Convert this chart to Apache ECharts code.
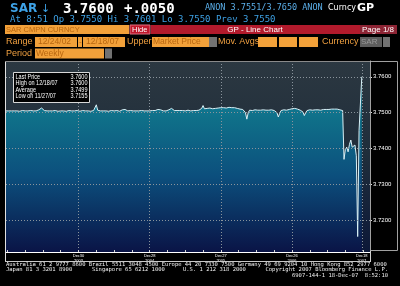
<!DOCTYPE html>
<html><head><meta charset="utf-8">
<script src="https://cdn.jsdelivr.net/npm/echarts@6/dist/echarts.min.js"></script>
<style>html,body{margin:0;padding:0;background:#000;}#c{width:400px;height:286px;}</style>
</head><body><div id="c"></div>
<script>
// ---- data ----
const startDate = [2002, 11, 24]; // 12/24/02, weekly
const values = [
3.7505,3.7504,3.7505,3.7506,3.7505,3.7504,3.7505,3.7506,3.7505,3.7505,
3.7504,3.7505,3.7506,3.7505,3.7505,3.7504,3.7505,3.7505,3.7506,3.7505,
3.7505,3.7504,3.7505,3.7506,3.7508,3.7510,3.7513,3.7509,3.7506,3.7505,
3.7505,3.7506,3.7505,3.7504,3.7505,3.7505,3.7506,3.7505,3.7504,3.7505,
3.7505,3.7506,3.7505,3.7505,3.7504,3.7505,3.7506,3.7505,3.7505,3.7504,
3.7505,3.7505,3.7506,3.7505,3.7504,3.7505,3.7506,3.7505,3.7505,3.7506,
3.7505,3.7505,3.7504,3.7505,3.7506,3.7508,3.7522,3.7507,3.7505,3.7505,
3.7504,3.7505,3.7506,3.7505,3.7505,3.7504,3.7505,3.7506,3.7505,3.7505,
3.7505,3.7506,3.7505,3.7504,3.7506,3.7508,3.7507,3.7509,3.7506,3.7505,
3.7505,3.7506,3.7505,3.7505,3.7504,3.7505,3.7506,3.7505,3.7505,3.7506,
3.7505,3.7505,3.7504,3.7505,3.7506,3.7505,3.7505,3.7506,3.7505,3.7506,
3.7507,3.7509,3.7511,3.7508,3.7506,3.7505,3.7506,3.7505,3.7506,3.7508,
3.7510,3.7512,3.7508,3.7506,3.7505,3.7506,3.7505,3.7506,3.7505,3.7506,
3.7506,3.7505,3.7506,3.7507,3.7506,3.7505,3.7506,3.7506,3.7505,3.7506,
3.7506,3.7507,3.7508,3.7512,3.7520,3.7511,3.7509,3.7512,3.7510,3.7513,
3.7510,3.7511,3.7509,3.7512,3.7511,3.7513,3.7514,3.7514,3.7515,3.7514,
3.7514,3.7513,3.7514,3.7515,3.7514,3.7514,3.7513,3.7514,3.7513,3.7512,
3.7511,3.7510,3.7510,3.7509,3.7508,3.7500,3.7482,3.7500,3.7507,3.7507,
3.7506,3.7507,3.7508,3.7507,3.7507,3.7506,3.7507,3.7507,3.7508,3.7507,
3.7507,3.7506,3.7507,3.7507,3.7508,3.7507,3.7506,3.7505,3.7500,3.7488,
3.7498,3.7506,3.7507,3.7508,3.7507,3.7507,3.7508,3.7509,3.7510,3.7511,
3.7511,3.7512,3.7511,3.7510,3.7508,3.7507,3.7506,3.7502,3.7492,3.7500,
3.7506,3.7507,3.7508,3.7508,3.7507,3.7508,3.7508,3.7509,3.7508,3.7508,
3.7507,3.7508,3.7509,3.7508,3.7509,3.7510,3.7509,3.7510,3.7510,3.7511,
3.7510,3.7511,3.7510,3.7509,3.7508,3.7507,3.7506,3.7370,3.7398,3.7404,
3.7391,3.7412,3.7424,3.7404,3.7408,3.7410,3.7380,3.7155,3.7451,3.7453,
3.7600
];
const extraWeeks = 6;
const labelDates = ['2003-12-30','2004-12-28','2005-12-27','2006-12-26','2007-12-18'];
const tickLabels = ['Dec30\n2003','Dec28\n2004','Dec27\n2005','Dec26\n2006','Dec18\n2007'];
const legendNames = ['Last Price','High on 12/18/07','Average','Low on 11/27/07'];
const legendValues = ['3.7600','3.7600','3.7499','3.7155'];
const yMin = 3.7112, yMax = 3.7644;

// ---- categories (weekly dates) ----
const categories = [];
const d0 = Date.UTC(startDate[0], startDate[1], startDate[2]);
for (let i = 0; i < values.length + extraWeeks; i++) {
  categories.push(new Date(d0 + i * 7 * 864e5).toISOString().slice(0, 10));
}
const labelIdx = labelDates.map(s => categories.indexOf(s));

// ---- graphic helpers ----
const MONO = '"DejaVu Sans Mono", monospace';
const SANS = '"Liberation Sans", Arial, sans-serif';
function T(text, x, y, font, fill, align, extra) {
  return Object.assign({type:'text', x:x, y:y, z:10, silent:true,
    style:{text:text, fill:fill, font:font, textAlign:align||'left', align:align||'left',
      textVerticalAlign:'middle', verticalAlign:'middle'}}, extra||{});
}
function R(x, y, w, h, fill, stroke) {
  return {type:'rect', z:10, silent:true, shape:{x:x, y:y, width:w, height:h},
    style:{fill:fill||'none', stroke:stroke||'none', lineWidth:1}};
}
function L(x1, y1, x2, y2, stroke) {
  return {type:'line', z:10, silent:true, shape:{x1:x1,y1:y1,x2:x2,y2:y2}, style:{stroke:stroke, lineWidth:1}};
}
const BLUE = '#3ea2e6', OR = '#f2a13a', ORT = '#b8660f', ORL = '#f0a040';

const g = [];
// header line 1
g.push(T('SAR', 10, 9, 'bold 12px "DejaVu Sans"', BLUE));
g.push(T('\u2193', 41, 9, '11px "DejaVu Sans"', BLUE));
g.push(T('3.7600', 63, 9, 'bold 14px ' + MONO, '#ffffff'));
g.push(T('+.0050', 124, 9, 'bold 14px ' + MONO, '#ffffff'));
g.push(T('ANON 3.7551/3.7650 ANON', 205, 8, '8.5px ' + MONO, '#5aaee8'));
g.push(T('Curncy', 328, 8, '8px "DejaVu Sans"', '#ffffff'));
g.push(T('GP', 357, 8, 'bold 11px "DejaVu Sans"', '#ffffff'));
// header line 2
g.push(T('At 8:51 Op 3.7550 Hi 3.7601 Lo 3.7550 Prev 3.7550', 10, 19.5, '9px ' + MONO, BLUE));
// line 3
g.push(R(5, 25, 124, 9, OR));
g.push(T('SAR CMPN CURNCY', 6, 29.8, '7.5px ' + SANS, ORT));
g.push(R(130, 25, 20, 9, '#c0182c', '#e07080'));
g.push(T('Hide', 132, 29.8, '7.5px ' + SANS, '#ffffff'));
g.push(R(151, 25, 209, 9, '#b21a2c'));
g.push(T('GP - Line Chart', 255, 29.8, '8px ' + SANS, '#ffffff', 'center'));
g.push(R(360, 25, 37, 9, '#8c2434'));
g.push(T('Page 1/8', 362, 29.8, '8px ' + SANS, '#ffffff'));
// line 4
g.push(T('Range', 6, 42, '9px ' + SANS, ORL));
g.push(R(35, 37, 42, 10, OR));
g.push(T('12/24/02', 38, 42, '8.5px ' + SANS, ORT));
g.push(R(78, 37, 4, 10, OR));
g.push(T('-', 79, 42, '8px ' + SANS, ORT));
g.push(R(83, 37, 42, 10, OR));
g.push(T('12/18/07', 86, 42, '8.5px ' + SANS, ORT));
g.push(T('Upper', 127, 42, '9px ' + SANS, ORL));
g.push(R(152, 37, 57, 10, OR));
g.push(T('Market Price', 153, 42, '8.5px ' + SANS, ORT));
g.push(R(209, 37, 8, 10, '#727272'));
g.push(T('Mov. Avgs', 218, 42, '9px ' + SANS, ORL));
g.push(R(258, 37, 19, 10, OR));
g.push(R(279, 37, 18, 10, OR));
g.push(R(299, 37, 19, 10, OR));
g.push(T('Currency', 322, 42, '9px ' + SANS, ORL));
g.push(R(360, 37, 22, 10, '#5e5e5e'));
g.push(T('SAR', 361, 42, '8px ' + SANS, '#9a9a9a'));
g.push(R(383, 37, 7, 10, '#727272'));
// line 5
g.push(T('Period', 6, 53.5, '9px ' + SANS, ORL));
g.push(R(35, 48.5, 69, 10, OR));
g.push(T('Weekly', 36, 53.5, '8.5px ' + SANS, ORT));
g.push(R(105, 48.5, 7, 10, '#727272'));
// frame
g.push(L(5.5, 61, 5.5, 262, '#e0e0e0'));
g.push(L(5, 61.5, 370, 61.5, '#8a8a8a'));
g.push(L(370.5, 61, 370.5, 262, '#d0d0d0'));
g.push(L(5, 261.5, 370, 261.5, '#c8c8c8'));
g.push(R(370.5, 61.5, 27, 189, 'none', '#a0a0a0'));
// legend box
g.push(R(13.5, 72.5, 76, 30, '#000000', '#d8d8d8'));
legendNames.forEach((n, k) => {
  const y = 77.3 + k * 6.4;
  g.push(T(n, 15.5, y, '6.5px ' + SANS, '#ffffff', 'left', {scaleX:0.85}));
  g.push(T(legendValues[k], 87.5, y, '6.5px ' + SANS, '#ffffff', 'right', {scaleX:0.85}));
});
// footer
const FF = '5.5px ' + MONO;
g.push(T('Australia 61 2 9777 8600 Brazil 5511 3048 4500 Europe 44 20 7330 7500 Germany 49 69 9204 10 Hong Kong 852 2977 6000', 6, 264.4, FF, '#f0f0f0'));
g.push(T('Japan 81 3 3201 8900', 6, 269.6, FF, '#f0f0f0'));
g.push(T('Singapore 65 6212 1000', 92, 269.6, FF, '#f0f0f0'));
g.push(T('U.S. 1 212 318 2000', 183, 269.6, FF, '#f0f0f0'));
g.push(T('Copyright 2007 Bloomberg Finance L.P.', 388, 269.6, FF, '#f0f0f0', 'right'));
g.push(T('6907-144-1 18-Dec-07  8:52:10', 388, 275.6, FF, '#f0f0f0', 'right'));

const chart = echarts.init(document.getElementById('c'), null, {renderer:'canvas'});
const bgGrad = new echarts.graphic.LinearGradient(0, 0, 0, 1, [
  {offset:0, color:'#2c3841'}, {offset:0.5, color:'#1f2d3b'}, {offset:1, color:'#0c1838'}]);
const areaGrad = new echarts.graphic.LinearGradient(0, 100, 0, 252, [
  {offset:0, color:'#127a94'}, {offset:0.12, color:'#0f7089'}, {offset:0.5, color:'#0c4f7d'}, {offset:1, color:'#0a1446'}], true);

chart.setOption({
  backgroundColor:'#000000',
  animation:false,
  grid:{left:6, right:30, top:61, bottom:34, show:true, backgroundColor:bgGrad, borderWidth:0},
  xAxis:{type:'category', data:categories, boundaryGap:false, z:3,
    axisLine:{show:true, lineStyle:{color:'#ffffff', width:1}},
    axisTick:{show:true, inside:true, length:2, interval:(i)=>((i - labelIdx[0]) % 13 === 0), lineStyle:{color:'#d0d0d0'}},
    axisLabel:{show:true, interval:(i)=>labelIdx.indexOf(i) >= 0,
      formatter:(v)=>{const k = labelDates.indexOf(v); return k >= 0 ? tickLabels[k] : '';},
      color:'#ffffff', fontSize:4, lineHeight:4.8, margin:1.5, fontFamily:'Liberation Sans'},
    splitLine:{show:true, interval:(i)=>labelIdx.indexOf(i) >= 0, lineStyle:{color:'#8a949c', type:[1,2], width:1}}
  },
  yAxis:{type:'value', position:'right', min:yMin, max:yMax, splitNumber:5, z:3, scale:true,
    axisLine:{show:true, lineStyle:{color:'#b0b0b0', width:1}},
    axisTick:{show:true, length:2, lineStyle:{color:'#e0e0e0'}},
    axisLabel:{color:'#ffffff', fontSize:6, fontFamily:'Liberation Sans', margin:3,
      showMinLabel:false, showMaxLabel:false, formatter:(v)=>v.toFixed(4)},
    splitLine:{show:true, lineStyle:{color:'#8a949c', type:[1,2], width:1}}
  },
  series:[{type:'line', data:values, symbol:'none', showSymbol:false, z:2,
    lineStyle:{color:'#d8f0f6', width:1},
    areaStyle:{origin:'start', color:areaGrad, opacity:1}}],
  graphic:{elements:g}
});
</script></body></html>
